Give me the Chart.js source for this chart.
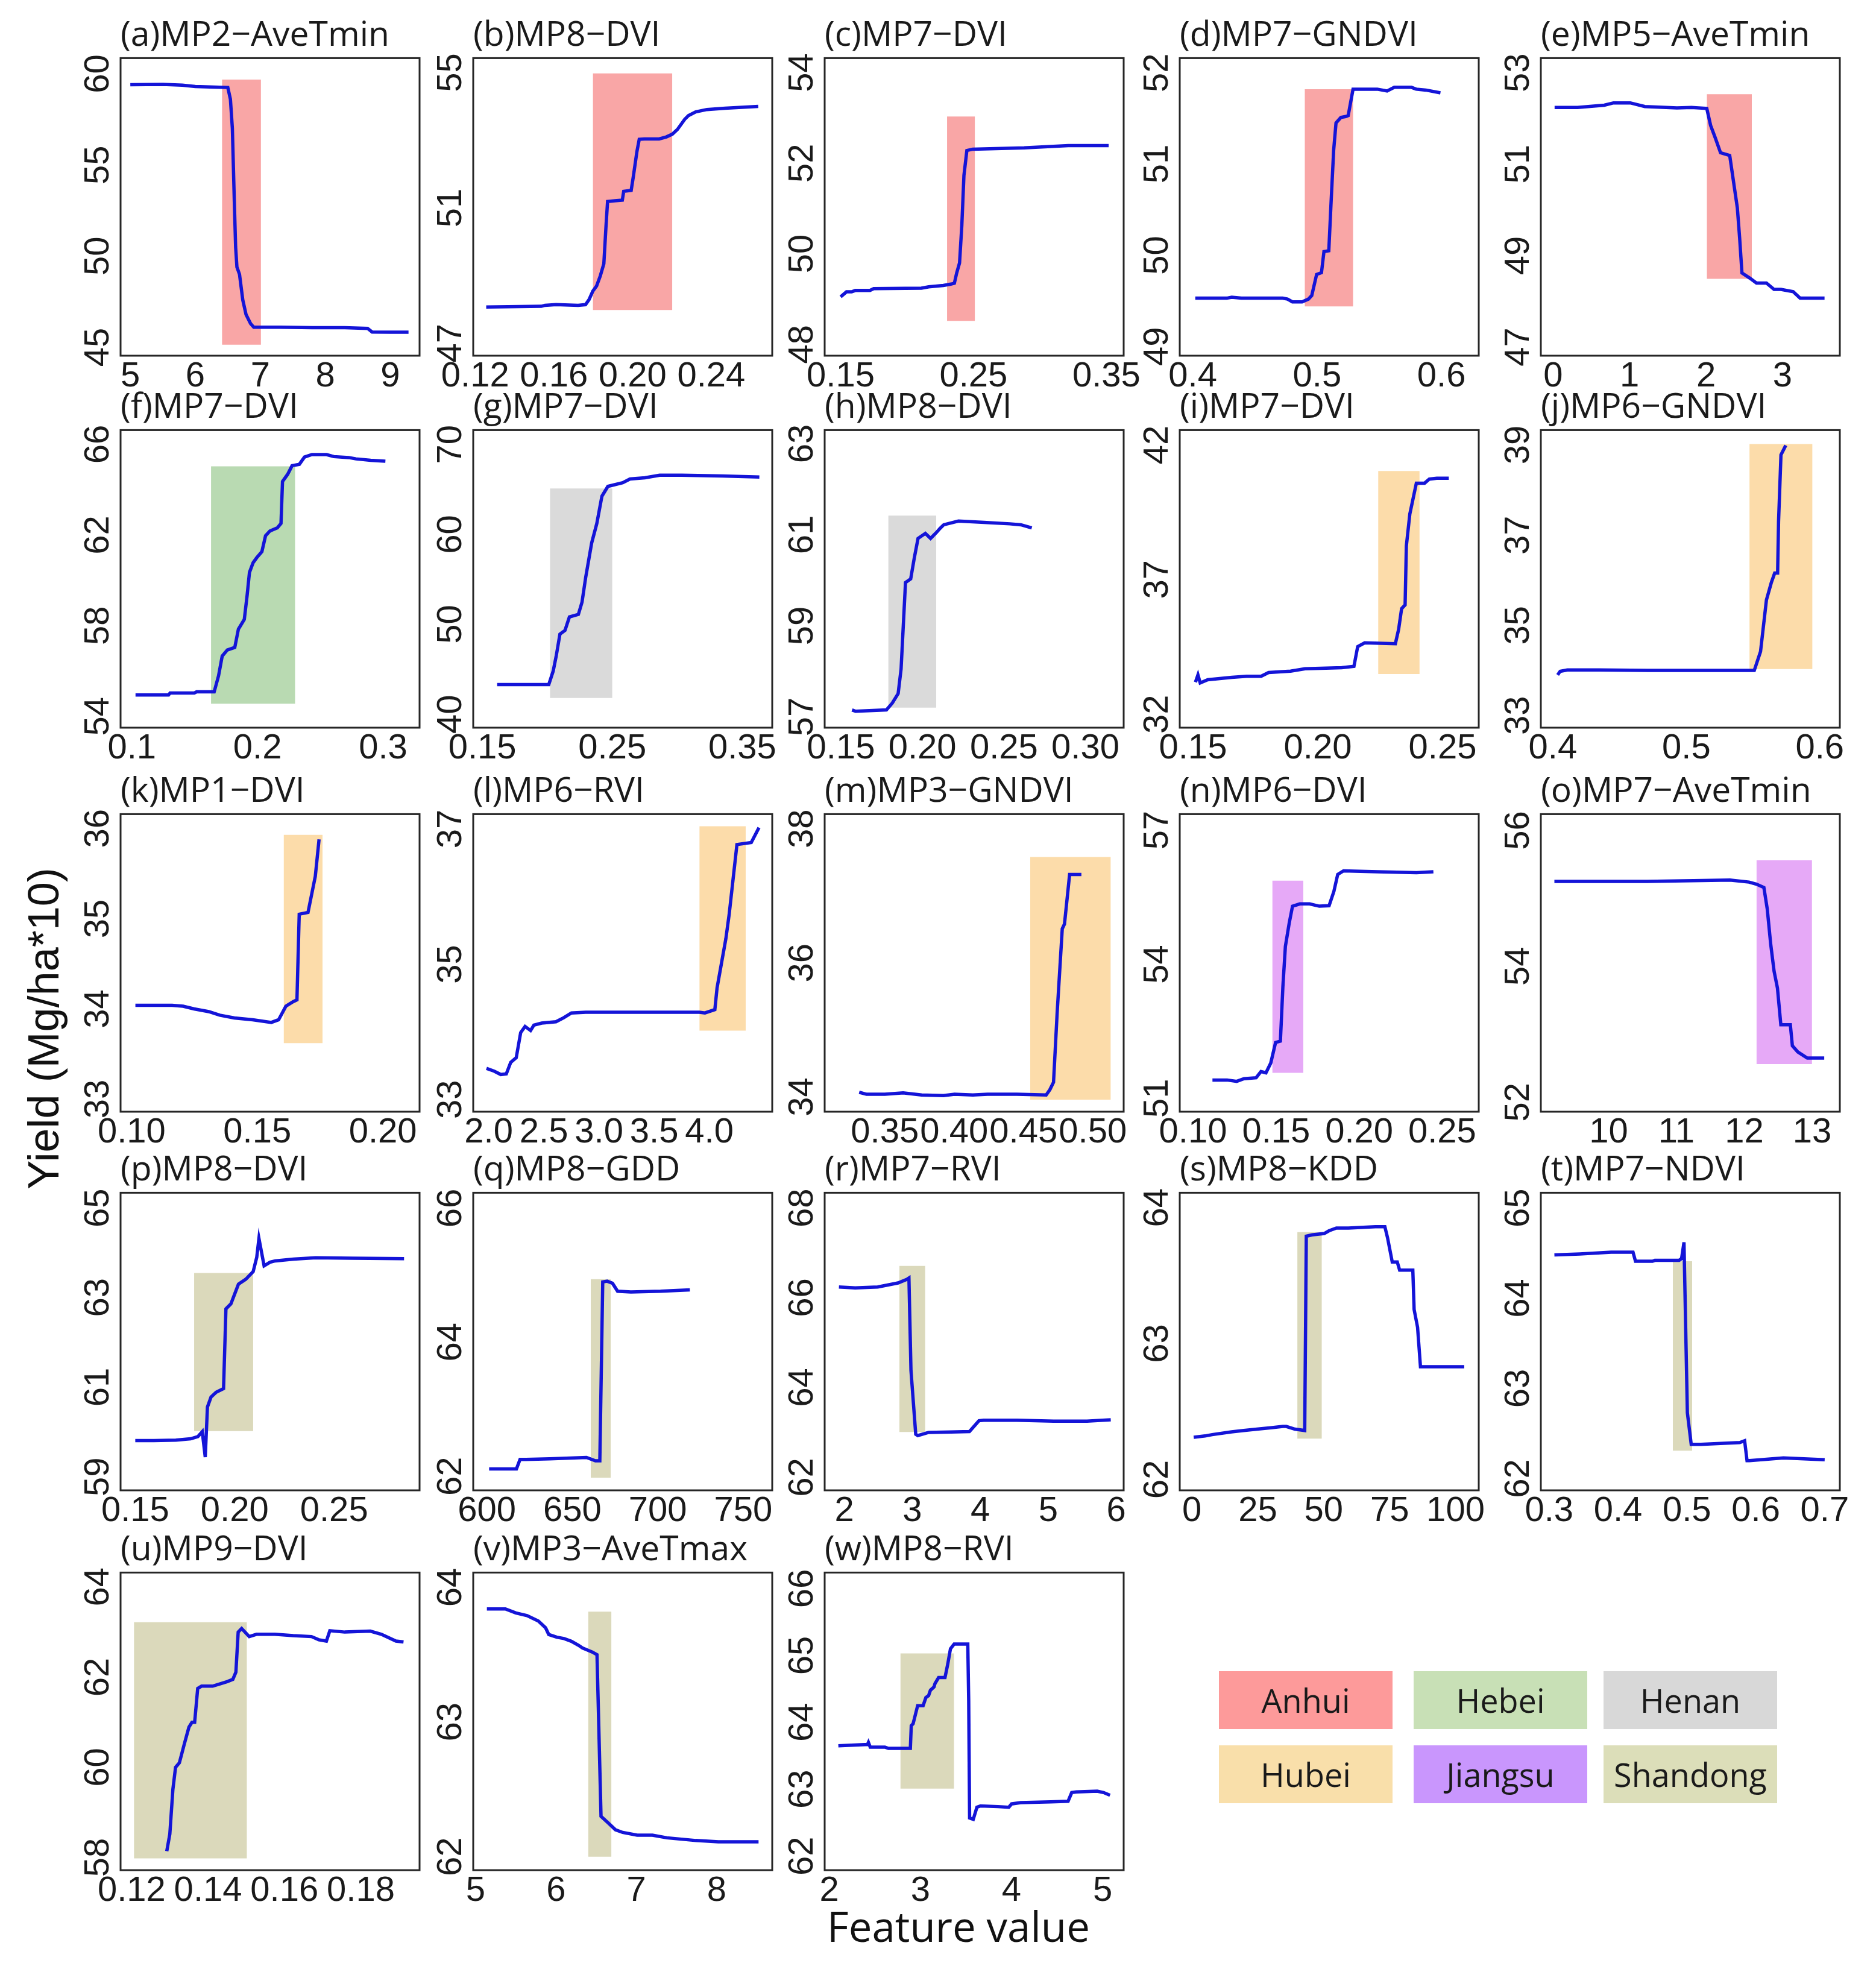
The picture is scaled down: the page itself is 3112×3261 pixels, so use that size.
<!DOCTYPE html>
<html>
<head>
<meta charset="utf-8">
<script src="https://cdn.jsdelivr.net/npm/chart.js@4.4.1/dist/chart.umd.min.js"></script>
<style>
  html, body { margin: 0; padding: 0; background: #fff; }
  #page { position: relative; width: 3112px; height: 3261px; overflow: hidden; background: #fff; }
  canvas.panel { position: absolute; }
  .ytitle {
    position: absolute; left: 72px; top: 1706px; white-space: nowrap;
    font-family: 'Liberation Sans', Arial, sans-serif; font-size: 72px; color: #111;
    transform: translate(-50%, -50%) rotate(-90deg);
  }
  .xtitle {
    position: absolute; left: 1590px; top: 3194px; white-space: nowrap;
    font-family: 'Open Sans', sans-serif; font-size: 69px; color: #111;
    transform: translate(-50%, -50%);
  }
  .key {
    position: absolute; width: 288px; height: 96px; line-height: 96px; text-align: center;
    font-family: 'Open Sans', sans-serif; font-size: 54px; color: #1a1a1a;
  }
</style>
</head>
<body>
<div id="page">
  <div class="ytitle">Yield (Mg/ha*10)</div>
  <div class="xtitle">Feature value</div>
</div>
<script>
// ---- panel curves (feature value, yield) ----
const featA = [5.0, 5.5, 5.8, 6.0, 6.3, 6.5, 6.54, 6.57, 6.6, 6.62, 6.64, 6.68, 6.73, 6.78, 6.85, 6.9, 7.3, 7.8, 8.3, 8.65, 8.72, 9.0, 9.28];
const yieldA = [59.4, 59.42, 59.38, 59.3, 59.27, 59.25, 58.6, 57.0, 53.0, 50.5, 49.4, 49.0, 47.6, 46.8, 46.3, 46.1, 46.1, 46.08, 46.08, 46.04, 45.84, 45.83, 45.83];

const featB = [0.1256, 0.1536, 0.1555, 0.1611, 0.1723, 0.1761, 0.1779, 0.1798, 0.1817, 0.1836, 0.1854, 0.1865, 0.1873, 0.191, 0.1948, 0.1955, 0.1993, 0.2004, 0.2022, 0.2034, 0.206, 0.2135, 0.2172, 0.2202, 0.2228, 0.2265, 0.2284, 0.2321, 0.2378, 0.2471, 0.2639];
const yieldB = [48.07, 48.09, 48.12, 48.14, 48.12, 48.14, 48.29, 48.54, 48.69, 48.99, 49.35, 50.46, 51.19, 51.21, 51.23, 51.49, 51.52, 51.93, 52.66, 53.03, 53.04, 53.04, 53.1, 53.18, 53.32, 53.62, 53.73, 53.84, 53.91, 53.95, 54.0];

const featC = [0.15, 0.1544, 0.1583, 0.161, 0.1721, 0.1749, 0.2108, 0.2163, 0.2273, 0.2329, 0.2356, 0.2373, 0.2395, 0.2412, 0.2428, 0.245, 0.2494, 0.2881, 0.3213, 0.3517];
const yieldC = [49.05, 49.16, 49.16, 49.19, 49.19, 49.23, 49.24, 49.27, 49.3, 49.33, 49.35, 49.57, 49.8, 50.62, 51.73, 52.28, 52.31, 52.34, 52.39, 52.39];

const featD = [0.402, 0.4273, 0.4313, 0.4391, 0.4723, 0.4762, 0.4801, 0.4879, 0.493, 0.4957, 0.4996, 0.5035, 0.5055, 0.5094, 0.5113, 0.5133, 0.5152, 0.5191, 0.523, 0.525, 0.5289, 0.5484, 0.5563, 0.5621, 0.5758, 0.5797, 0.5875, 0.5992];
const yieldD = [49.53, 49.53, 49.54, 49.53, 49.53, 49.52, 49.49, 49.49, 49.52, 49.56, 49.79, 49.81, 50.04, 50.05, 50.6, 51.15, 51.45, 51.51, 51.52, 51.53, 51.82, 51.82, 51.8, 51.84, 51.84, 51.82, 51.81, 51.78];

const featE = [0.02, 0.32, 0.67, 0.79, 1.01, 1.2, 1.62, 1.81, 2.01, 2.06, 2.12, 2.19, 2.31, 2.41, 2.44, 2.47, 2.57, 2.66, 2.79, 2.89, 2.98, 3.14, 3.23, 3.55];
const yieldE = [52.24, 52.24, 52.29, 52.34, 52.34, 52.26, 52.23, 52.24, 52.22, 51.85, 51.58, 51.25, 51.19, 50.04, 49.38, 48.62, 48.51, 48.4, 48.4, 48.26, 48.26, 48.21, 48.07, 48.07];

const featF = [0.1029, 0.1292, 0.1304, 0.1497, 0.1515, 0.1655, 0.169, 0.1719, 0.176, 0.1819, 0.1848, 0.1895, 0.1918, 0.1936, 0.1965, 0.1994, 0.2035, 0.2064, 0.2099, 0.2158, 0.2187, 0.2199, 0.224, 0.2275, 0.2333, 0.2374, 0.2433, 0.255, 0.2608, 0.2725, 0.2784, 0.29, 0.3018];
const yieldF = [54.94, 54.94, 55.03, 55.03, 55.08, 55.08, 55.79, 56.66, 56.93, 57.04, 57.85, 58.28, 59.37, 60.35, 60.78, 61.0, 61.27, 61.97, 62.18, 62.32, 62.51, 64.36, 64.68, 65.06, 65.12, 65.44, 65.55, 65.55, 65.46, 65.42, 65.36, 65.3, 65.26];

const featG = [0.1614, 0.2011, 0.2045, 0.2068, 0.2097, 0.2136, 0.217, 0.2239, 0.2267, 0.2295, 0.2341, 0.2381, 0.242, 0.2466, 0.258, 0.2636, 0.275, 0.2864, 0.3034, 0.3347, 0.3631];
const yieldG = [43.29, 43.29, 44.79, 46.44, 48.9, 49.32, 50.82, 51.1, 52.47, 55.21, 59.04, 61.23, 64.25, 65.34, 65.75, 66.16, 66.3, 66.58, 66.58, 66.49, 66.38];

const featH = [0.1568, 0.159, 0.1779, 0.1815, 0.1851, 0.1869, 0.1896, 0.1928, 0.195, 0.1973, 0.2018, 0.205, 0.2086, 0.2108, 0.2131, 0.2221, 0.2378, 0.2536, 0.2604, 0.2671];
const yieldH = [57.15, 57.12, 57.15, 57.3, 57.51, 58.05, 59.95, 60.03, 60.49, 60.92, 61.03, 60.92, 61.05, 61.14, 61.22, 61.3, 61.27, 61.24, 61.22, 61.15];

const featI = [0.151, 0.152, 0.1529, 0.1559, 0.1656, 0.1715, 0.1773, 0.1803, 0.1891, 0.1949, 0.2096, 0.2145, 0.216, 0.2188, 0.2311, 0.2324, 0.2336, 0.235, 0.2355, 0.2369, 0.2395, 0.2428, 0.2447, 0.2477, 0.2525];
const yieldI = [33.19, 33.46, 33.16, 33.28, 33.37, 33.41, 33.41, 33.55, 33.6, 33.69, 33.73, 33.78, 34.51, 34.65, 34.62, 35.15, 35.92, 36.06, 38.25, 39.44, 40.58, 40.58, 40.73, 40.76, 40.76];

const featJ = [0.4036, 0.4055, 0.4109, 0.4345, 0.4709, 0.5073, 0.5509, 0.5556, 0.56, 0.5636, 0.5662, 0.5684, 0.5691, 0.5709, 0.5745];
const yieldJ = [33.9, 33.98, 34.01, 34.01, 34.0, 34.0, 34.0, 34.42, 35.56, 35.94, 36.16, 36.16, 37.31, 38.78, 38.99];

const featK = [0.1015, 0.1161, 0.1205, 0.1249, 0.1307, 0.1351, 0.1409, 0.1482, 0.1556, 0.1585, 0.1614, 0.1643, 0.1658, 0.1667, 0.1702, 0.1731, 0.1746];
const yieldK = [34.04, 34.04, 34.03, 34.0, 33.97, 33.93, 33.9, 33.88, 33.85, 33.88, 34.03, 34.08, 34.1, 35.05, 35.07, 35.47, 35.88];

const featL = [1.98, 2.05, 2.11, 2.16, 2.2, 2.25, 2.29, 2.33, 2.38, 2.41, 2.48, 2.61, 2.68, 2.75, 2.88, 3.55, 3.91, 3.96, 4.05, 4.07, 4.15, 4.18, 4.25, 4.38, 4.45];
const yieldL = [33.46, 33.42, 33.37, 33.38, 33.55, 33.62, 33.99, 34.08, 34.02, 34.1, 34.13, 34.15, 34.21, 34.28, 34.29, 34.29, 34.29, 34.28, 34.33, 34.65, 35.38, 35.74, 36.77, 36.8, 37.02];

const featM = [0.3315, 0.3368, 0.35, 0.3632, 0.3765, 0.3923, 0.4003, 0.4135, 0.4241, 0.4452, 0.4664, 0.4691, 0.4717, 0.4743, 0.478, 0.4796, 0.4833, 0.4918];
const yieldM = [34.07, 34.04, 34.04, 34.06, 34.03, 34.02, 34.04, 34.03, 34.04, 34.04, 34.03, 34.11, 34.22, 35.25, 36.51, 36.58, 37.32, 37.32];

const featN = [0.1117, 0.1205, 0.1263, 0.1307, 0.138, 0.1409, 0.1439, 0.1468, 0.1497, 0.1526, 0.1541, 0.1556, 0.1579, 0.1599, 0.1643, 0.1702, 0.176, 0.1819, 0.1848, 0.1871, 0.1906, 0.2111, 0.2345, 0.2447];
const yieldN = [51.41, 51.41, 51.38, 51.44, 51.46, 51.6, 51.57, 51.79, 52.25, 52.28, 53.5, 54.4, 54.92, 55.3, 55.35, 55.35, 55.3, 55.31, 55.63, 56.01, 56.09, 56.07, 56.05, 56.07];

const featO = [9.2, 10.57, 11.79, 12.07, 12.18, 12.29, 12.34, 12.39, 12.44, 12.49, 12.54, 12.68, 12.71, 12.79, 12.93, 13.18];
const yieldO = [55.25, 55.25, 55.27, 55.24, 55.21, 55.16, 54.84, 54.33, 53.93, 53.68, 53.14, 53.14, 52.83, 52.74, 52.65, 52.65];

const featP = [0.15, 0.1593, 0.1704, 0.1778, 0.1815, 0.1837, 0.1852, 0.1863, 0.1881, 0.1907, 0.1944, 0.1956, 0.1981, 0.2019, 0.2056, 0.2093, 0.2111, 0.2122, 0.2148, 0.2178, 0.2204, 0.2296, 0.2407, 0.2593, 0.2852];
const yieldP = [59.81, 59.81, 59.82, 59.85, 59.9, 60.01, 59.44, 60.56, 60.78, 60.89, 60.97, 62.75, 62.86, 63.3, 63.41, 63.58, 63.9, 64.32, 63.71, 63.79, 63.82, 63.86, 63.89, 63.88, 63.87];

const featQ = [601.3, 617.3, 619.4, 622.9, 636.7, 658.3, 663.5, 666.1, 667.8, 670.4, 673.5, 676.5, 684.3, 701.6, 718.8];
const yieldQ = [62.11, 62.11, 62.25, 62.25, 62.26, 62.28, 62.23, 62.23, 64.9, 64.91, 64.88, 64.76, 64.75, 64.76, 64.78];

const featR = [1.92, 2.16, 2.49, 2.59, 2.79, 2.92, 2.95, 2.98, 3.05, 3.08, 3.24, 3.57, 3.84, 3.98, 4.05, 4.54, 5.08, 5.57, 5.92];
const yieldR = [66.24, 66.22, 66.24, 66.27, 66.33, 66.41, 66.44, 64.38, 62.96, 62.93, 63.0, 63.01, 63.02, 63.26, 63.27, 63.27, 63.25, 63.25, 63.28];

const featS = [0.7, 5.0, 7.7, 15.1, 19.7, 24.7, 29.9, 34.5, 35.8, 39.1, 42.8, 43.4, 45.6, 50.2, 52.0, 54.8, 59.4, 69.6, 73.2, 74.2, 76.0, 77.9, 78.8, 81.2, 83.8, 84.3, 85.6, 86.7, 88.9, 98.2, 103.3];
const yieldS = [62.31, 62.32, 62.33, 62.35, 62.36, 62.37, 62.38, 62.39, 62.39, 62.37, 62.36, 63.79, 63.8, 63.81, 63.83, 63.85, 63.85, 63.86, 63.86, 63.78, 63.6, 63.6, 63.54, 63.54, 63.54, 63.25, 63.12, 62.83, 62.83, 62.83, 62.83];

const featT = [0.3077, 0.3444, 0.3901, 0.4218, 0.4254, 0.45, 0.4535, 0.4887, 0.4923, 0.4958, 0.5007, 0.5063, 0.5204, 0.5768, 0.5838, 0.5873, 0.5908, 0.6401, 0.7];
const yieldT = [64.48, 64.49, 64.51, 64.51, 64.41, 64.41, 64.42, 64.42, 64.44, 64.62, 62.73, 62.38, 62.38, 62.4, 62.42, 62.2, 62.2, 62.23, 62.21];

const featU = [0.1292, 0.13, 0.1308, 0.1315, 0.1325, 0.1338, 0.135, 0.1358, 0.1365, 0.1373, 0.1383, 0.1412, 0.1431, 0.145, 0.1465, 0.1473, 0.1479, 0.1488, 0.1508, 0.1527, 0.1575, 0.1623, 0.1671, 0.169, 0.171, 0.1719, 0.1758, 0.1825, 0.1854, 0.1892, 0.1912];
const yieldU = [58.14, 58.52, 59.51, 60.0, 60.1, 60.52, 60.89, 61.0, 61.0, 61.75, 61.8, 61.8, 61.85, 61.9, 61.95, 62.11, 63.0, 63.08, 62.9, 62.95, 62.95, 62.92, 62.9, 62.83, 62.8, 63.03, 63.0, 63.02, 62.95, 62.8, 62.78];

const featV = [5.14, 5.37, 5.5, 5.64, 5.78, 5.87, 5.91, 6.01, 6.1, 6.19, 6.28, 6.33, 6.37, 6.45, 6.51, 6.56, 6.65, 6.74, 6.83, 7.01, 7.2, 7.38, 7.56, 7.74, 8.02, 8.52];
const yieldV = [63.84, 63.84, 63.81, 63.79, 63.75, 63.7, 63.65, 63.63, 63.62, 63.6, 63.57, 63.55, 63.54, 63.52, 63.5, 62.3, 62.25, 62.2, 62.18, 62.16, 62.16, 62.14, 62.13, 62.12, 62.11, 62.11];

const featW = [2.10, 2.42, 2.43, 2.45, 2.61, 2.65, 2.89, 2.9, 2.92, 2.97, 3.03, 3.06, 3.09, 3.11, 3.15, 3.16, 3.2, 3.27, 3.3, 3.33, 3.37, 3.52, 3.53, 3.54, 3.58, 3.62, 3.66, 3.85, 3.97, 4.0, 4.1, 4.43, 4.62, 4.66, 4.71, 4.94, 5.01, 5.08];
const yieldW = [63.65, 63.67, 63.7, 63.63, 63.63, 63.61, 63.61, 63.95, 63.98, 64.25, 64.25, 64.37, 64.4, 64.48, 64.53, 64.58, 64.67, 64.67, 64.87, 65.1, 65.17, 65.17, 64.33, 62.57, 62.55, 62.73, 62.75, 62.74, 62.73, 62.78, 62.8, 62.81, 62.82, 62.95, 62.96, 62.97, 62.95, 62.91];

const featureValues = [featA, featB, featC, featD, featE, featF, featG, featH, featI, featJ, featK, featL,
  featM, featN, featO, featP, featQ, featR, featS, featT, featU, featV, featW];
const yieldValues = [yieldA, yieldB, yieldC, yieldD, yieldE, yieldF, yieldG, yieldH, yieldI, yieldJ, yieldK, yieldL,
  yieldM, yieldN, yieldO, yieldP, yieldQ, yieldR, yieldS, yieldT, yieldU, yieldV, yieldW];

const panelTitles = [
  '(a)MP2\u2212AveTmin', '(b)MP8\u2212DVI', '(c)MP7\u2212DVI', '(d)MP7\u2212GNDVI', '(e)MP5\u2212AveTmin',
  '(f)MP7\u2212DVI', '(g)MP7\u2212DVI', '(h)MP8\u2212DVI', '(i)MP7\u2212DVI', '(j)MP6\u2212GNDVI',
  '(k)MP1\u2212DVI', '(l)MP6\u2212RVI', '(m)MP3\u2212GNDVI', '(n)MP6\u2212DVI', '(o)MP7\u2212AveTmin',
  '(p)MP8\u2212DVI', '(q)MP8\u2212GDD', '(r)MP7\u2212RVI', '(s)MP8\u2212KDD', '(t)MP7\u2212NDVI',
  '(u)MP9\u2212DVI', '(v)MP3\u2212AveTmax', '(w)MP8\u2212RVI'
];

// province of each panel (index into regionNames)
const regionNames = ['Anhui', 'Hebei', 'Henan', 'Hubei', 'Jiangsu', 'Shandong'];
const panelRegion = [0, 0, 0, 0, 0, 1, 2, 2, 3, 3, 3, 3, 3, 4, 4, 5, 5, 5, 5, 5, 5, 5, 5];

// shaded ranges [from, to] on each axis
const shadeX = [[6.41, 7.01], [0.1798, 0.2202], [0.2301, 0.2511], [0.49, 0.529], [2.01, 2.6],
  [0.163, 0.23], [0.202, 0.25], [0.179, 0.2085], [0.2242, 0.2408], [0.5473, 0.5945],
  [0.1605, 0.176], [3.91, 4.33], [0.4548, 0.513], [0.1477, 0.1664], [12.18, 13.0],
  [0.1796, 0.2093], [660.8, 672.5], [2.81, 3.19], [40.0, 49.3], [0.4796, 0.5077],
  [0.1206, 0.1502], [6.4, 6.69], [2.78, 3.37]];
const shadeY = [[45.14, 59.68], [47.98, 54.98], [48.52, 53.03], [49.44, 51.82], [48.49, 52.53],
  [54.56, 65.03], [41.8, 65.1], [57.2, 61.42], [33.49, 41.03], [34.03, 39.02],
  [33.62, 35.93], [34.02, 37.04], [33.96, 37.58], [51.57, 55.87], [52.56, 55.56],
  [60.02, 63.55], [61.98, 64.94], [63.01, 66.71], [62.3, 63.82], [62.31, 64.41],
  [57.98, 63.22], [62.0, 63.82], [63.01, 65.03]];

// axis limits
const xLimits = [[4.85, 9.45], [0.119, 0.271], [0.138, 0.363], [0.3895, 0.63], [-0.16, 3.75],
  [0.091, 0.329], [0.143, 0.373], [0.14, 0.3235], [0.1447, 0.2645], [0.391, 0.615],
  [0.0956, 0.2146], [1.86, 4.57], [0.3066, 0.5223], [0.092, 0.272], [9.0, 13.41],
  [0.1426, 0.293], [592, 767], [1.71, 6.11], [-4.6, 108.8], [0.288, 0.722],
  [0.1171, 0.1954], [4.97, 8.69], [1.95, 5.23]];
const yLimits = [[44.54, 60.86], [46.63, 55.43], [47.75, 54.32], [48.9, 52.16], [46.81, 53.32],
  [53.5, 66.63], [38.5, 71.6], [56.76, 63.3], [31.5, 42.55], [32.73, 39.33],
  [32.86, 36.16], [32.82, 37.22], [33.78, 38.22], [50.7, 57.36], [51.86, 56.24],
  [58.7, 65.34], [61.79, 66.23], [61.71, 68.34], [61.92, 64.11], [61.87, 65.17],
  [57.72, 64.32], [61.9, 64.11], [61.79, 66.24]];

// tick labels
const xTickLabels = [
  ['5', '6', '7', '8', '9'], ['0.12', '0.16', '0.20', '0.24'], ['0.15', '0.25', '0.35'], ['0.4', '0.5', '0.6'], ['0', '1', '2', '3'],
  ['0.1', '0.2', '0.3'], ['0.15', '0.25', '0.35'], ['0.15', '0.20', '0.25', '0.30'], ['0.15', '0.20', '0.25'], ['0.4', '0.5', '0.6'],
  ['0.10', '0.15', '0.20'], ['2.0', '2.5', '3.0', '3.5', '4.0'], ['0.35', '0.40', '0.45', '0.50'], ['0.10', '0.15', '0.20', '0.25'], ['10', '11', '12', '13'],
  ['0.15', '0.20', '0.25'], ['600', '650', '700', '750'], ['2', '3', '4', '5', '6'], ['0', '25', '50', '75', '100'], ['0.3', '0.4', '0.5', '0.6', '0.7'],
  ['0.12', '0.14', '0.16', '0.18'], ['5', '6', '7', '8'], ['2', '3', '4', '5']
];
const yTickLabels = [
  ['45', '50', '55', '60'], ['47', '51', '55'], ['48', '50', '52', '54'], ['49', '50', '51', '52'], ['47', '49', '51', '53'],
  ['54', '58', '62', '66'], ['40', '50', '60', '70'], ['57', '59', '61', '63'], ['32', '37', '42'], ['33', '35', '37', '39'],
  ['33', '34', '35', '36'], ['33', '35', '37'], ['34', '36', '38'], ['51', '54', '57'], ['52', '54', '56'],
  ['59', '61', '63', '65'], ['62', '64', '66'], ['62', '64', '66', '68'], ['62', '63', '64'], ['62', '63', '64', '65'],
  ['58', '60', '62', '64'], ['62', '63', '64'], ['62', '63', '64', '65', '66']
];

// ---- styling / layout ----
const shadeColors = ['#f9a6a6', '#b9dab2', '#dadada', '#fcdcaa', '#e6a9f7', '#dbd9bb'];
const legendColors = ['#fd9a9a', '#c8e0b6', '#d8d8d8', '#f9dfaa', '#c996fd', '#dcdeb9'];
const LINE_COLOR = '#1414d8';

const COL_X = [200, 785, 1368, 1957, 2556];
const ROW_Y = [96, 713, 1350, 1978, 2608];
const BOX_W = 496, BOX_H = 494;
const Y_AXIS_W = 125, X_AXIS_H = 95, PAD_R = 70;
const TITLE_SIZE = 57;
const TITLE_H = TITLE_SIZE * 1.2 + 2;
const TICK_FONT = { family: "'Liberation Sans Narrow', 'Liberation Sans', Arial, sans-serif", size: 58 };

const page = document.getElementById('page');

// frame round the plotting area
const boxFrame = {
  id: 'boxFrame',
  afterDraw(chart) {
    const { ctx, chartArea: a } = chart;
    ctx.save();
    ctx.strokeStyle = '#262626';
    ctx.lineWidth = 3;
    ctx.strokeRect(a.left, a.top, a.right - a.left, a.bottom - a.top);
    ctx.restore();
  }
};

function makePanel(i) {
  const col = i % 5, row = Math.floor(i / 5);
  const canvas = document.createElement('canvas');
  canvas.className = 'panel';
  canvas.width = Y_AXIS_W + BOX_W + PAD_R;
  canvas.height = Math.round(TITLE_H + BOX_H + X_AXIS_H);
  canvas.style.left = (COL_X[col] - Y_AXIS_W) + 'px';
  canvas.style.top = (ROW_Y[row] - TITLE_H) + 'px';
  page.appendChild(canvas);

  const pts = featureValues[i].map((x, k) => ({ x: x, y: yieldValues[i][k] }));
  const sx = shadeX[i], sy = shadeY[i];
  const xt = xTickLabels[i], yt = yTickLabels[i];

  new Chart(canvas, {
    type: 'line',
    data: {
      datasets: [
        { data: pts, borderColor: LINE_COLOR, borderWidth: 5.5, pointRadius: 0, tension: 0, fill: false },
        {
          data: [{ x: sx[0], y: sy[1] }, { x: sx[1], y: sy[1] }],
          fill: { value: sy[0] }, backgroundColor: shadeColors[panelRegion[i]],
          borderWidth: 0, borderColor: 'rgba(0,0,0,0)', pointRadius: 0
        }
      ]
    },
    options: {
      responsive: false,
      animation: false,
      devicePixelRatio: 1,
      layout: { padding: { left: 0, right: PAD_R, top: 0, bottom: 0 } },
      plugins: {
        legend: { display: false },
        tooltip: { enabled: false },
        title: {
          display: true, text: panelTitles[i], align: 'start', fullSize: false, color: '#1a1a1a',
          font: { family: "'Open Sans', sans-serif", size: TITLE_SIZE, weight: 'normal', lineHeight: 1.2 },
          padding: { top: 0, bottom: 2 }
        }
      },
      scales: {
        x: {
          type: 'linear', min: xLimits[i][0], max: xLimits[i][1],
          grid: { display: false, drawTicks: false }, border: { display: false },
          ticks: { autoSkip: false, minRotation: 0, maxRotation: 0, padding: 0, color: '#1a1a1a', font: TICK_FONT,
            callback: (v, k) => xt[k] },
          afterBuildTicks: s => { s.ticks = xt.map(t => ({ value: parseFloat(t) })); },
          afterFit: s => { s.height = X_AXIS_H; s.paddingLeft = 0; s.paddingRight = 0; }
        },
        y: {
          type: 'linear', min: yLimits[i][0], max: yLimits[i][1],
          grid: { display: false, drawTicks: false }, border: { display: false },
          ticks: { autoSkip: false, minRotation: 90, maxRotation: 90, crossAlign: 'center', padding: 4,
            color: '#1a1a1a', font: TICK_FONT, callback: (v, k) => yt[k] },
          afterBuildTicks: s => { s.ticks = yt.map(t => ({ value: parseFloat(t) })); },
          afterFit: s => { s.width = Y_AXIS_W; s.paddingTop = 0; s.paddingBottom = 0; }
        }
      }
    },
    plugins: [boxFrame]
  });
}

for (let i = 0; i < panelTitles.length; i++) makePanel(i);

// region key, two rows of three
const KEY_X = [2022, 2345, 2660];
const KEY_Y = [2772, 2895];
regionNames.forEach((name, k) => {
  const d = document.createElement('div');
  d.className = 'key';
  d.textContent = name;
  d.style.left = KEY_X[k % 3] + 'px';
  d.style.top = KEY_Y[Math.floor(k / 3)] + 'px';
  d.style.background = legendColors[k];
  page.appendChild(d);
});
</script>
</body>
</html>
